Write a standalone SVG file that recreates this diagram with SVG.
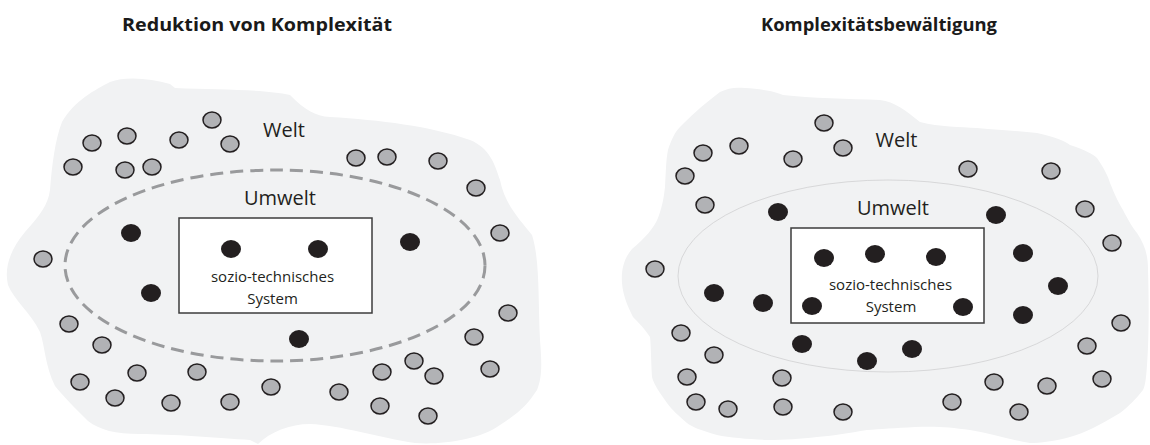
<svg xmlns="http://www.w3.org/2000/svg" width="1150" height="445" viewBox="0 0 1150 445">
<style>
.blob{fill:#f1f2f3;stroke:none}
.g{fill:#b1b2b5;stroke:#231f20;stroke-width:1.5}
.b{fill:#231f20;stroke:none}
.box{fill:#ffffff;stroke:#3c3c3c;stroke-width:1.5}
.t{font-family:"Open Sans","Noto Sans",sans-serif;fill:#231f20}
.title{font-family:"Open Sans","Noto Sans",sans-serif;font-weight:bold;font-size:18px;fill:#1a1a1a}
</style>
<rect width="1150" height="445" fill="#ffffff"/>

<g id="left-panel">
<text class="title" x="257" y="31" text-anchor="middle" textLength="270" lengthAdjust="spacingAndGlyphs">Reduktion von Komplexität</text>
<path id="left-welt" class="blob" d="M110,82 C125,76 150,78 170,84 L175,88 C220,90 265,89 290,95 C305,110 315,116 330,117 C380,120 430,126 470,140 C490,148 495,165 500,180 C505,205 520,220 532,235 C540,260 538,300 540,340 C542,365 542,378 537,390 C527,405 520,412 500,425 C480,440 440,445 415,443 C380,438 340,425 310,424 C290,424 270,432 258,444 L250,440 C220,438 170,434 140,434 C115,434 100,430 88,421 C75,408 65,398 55,386 C45,366 45,346 40,332 C30,312 14,300 8,285 C4,268 10,250 25,232 C40,215 48,205 50,190 C52,165 55,140 62,122 C75,100 95,90 110,82 Z"/>
<ellipse id="left-umwelt" cx="275" cy="265.5" rx="210" ry="95.5" fill="none" stroke="#999a9c" stroke-width="3" stroke-dasharray="13 7"/>
<text class="t" x="284" y="137" font-size="20" text-anchor="middle">Welt</text>
<text class="t" x="280" y="205" font-size="20" text-anchor="middle">Umwelt</text>
<g id="left-system">
<rect class="box" x="179" y="218" width="193" height="95"/>
<text class="t" x="272.5" y="282" font-size="15" text-anchor="middle">sozio-technisches</text>
<text class="t" x="272.5" y="304" font-size="15" text-anchor="middle">System</text>
</g>
<g id="left-gray">
<ellipse class="g" cx="212" cy="120" rx="9" ry="8"/>
<ellipse class="g" cx="92" cy="143" rx="9" ry="8"/>
<ellipse class="g" cx="127" cy="136" rx="9" ry="8"/>
<ellipse class="g" cx="179" cy="140" rx="9" ry="8"/>
<ellipse class="g" cx="230" cy="144" rx="9" ry="8"/>
<ellipse class="g" cx="73" cy="167" rx="9" ry="8"/>
<ellipse class="g" cx="125" cy="170" rx="9" ry="8"/>
<ellipse class="g" cx="152" cy="167" rx="9" ry="8"/>
<ellipse class="g" cx="43" cy="259" rx="9" ry="8"/>
<ellipse class="g" cx="356" cy="158" rx="9" ry="8"/>
<ellipse class="g" cx="387" cy="157" rx="9" ry="8"/>
<ellipse class="g" cx="438" cy="161" rx="9" ry="8"/>
<ellipse class="g" cx="476" cy="188" rx="9" ry="8"/>
<ellipse class="g" cx="500" cy="233" rx="9" ry="8"/>
<ellipse class="g" cx="69" cy="324" rx="9" ry="8"/>
<ellipse class="g" cx="102" cy="345" rx="9" ry="8"/>
<ellipse class="g" cx="80" cy="382" rx="9" ry="8"/>
<ellipse class="g" cx="137" cy="373" rx="9" ry="8"/>
<ellipse class="g" cx="197" cy="372" rx="9" ry="8"/>
<ellipse class="g" cx="115" cy="398" rx="9" ry="8"/>
<ellipse class="g" cx="171" cy="403" rx="9" ry="8"/>
<ellipse class="g" cx="230" cy="402" rx="9" ry="8"/>
<ellipse class="g" cx="271" cy="387" rx="9" ry="8"/>
<ellipse class="g" cx="508" cy="313" rx="9" ry="8"/>
<ellipse class="g" cx="474" cy="337" rx="9" ry="8"/>
<ellipse class="g" cx="490" cy="369" rx="9" ry="8"/>
<ellipse class="g" cx="382" cy="372" rx="9" ry="8"/>
<ellipse class="g" cx="414" cy="361" rx="9" ry="8"/>
<ellipse class="g" cx="434" cy="376" rx="9" ry="8"/>
<ellipse class="g" cx="339" cy="392" rx="9" ry="8"/>
<ellipse class="g" cx="380" cy="406" rx="9" ry="8"/>
<ellipse class="g" cx="428" cy="416" rx="9" ry="8"/>
</g>
<g id="left-black">
<ellipse class="b" cx="131" cy="233" rx="10" ry="9"/>
<ellipse class="b" cx="231" cy="249" rx="10" ry="9"/>
<ellipse class="b" cx="318" cy="249" rx="10" ry="9"/>
<ellipse class="b" cx="410" cy="242" rx="10" ry="9"/>
<ellipse class="b" cx="151" cy="293" rx="10" ry="9"/>
<ellipse class="b" cx="299" cy="339" rx="10" ry="9"/>
</g>
</g>

<g id="right-panel">
<text class="title" x="879" y="31" text-anchor="middle" textLength="236" lengthAdjust="spacingAndGlyphs">Komplexitätsbewältigung</text>
<path id="right-welt" class="blob" d="M720,92 C728,88 735,87 745,88 C760,89 775,91 783,95 C810,98 850,99 880,100 C895,102 905,110 920,122 C940,127 960,127 977,128 C1000,130 1020,131 1037,133 C1055,137 1065,141 1070,145 C1085,150 1093,154 1097,158 C1104,168 1108,176 1110,183 C1115,195 1118,202 1123,210 C1128,220 1133,228 1137,233 C1145,245 1148,255 1148,270 C1149,300 1149,340 1147,365 C1146,380 1145,386 1143,390 C1135,400 1130,405 1120,413 C1100,425 1085,433 1070,437 C1055,441 1040,443 1030,443 C1010,440 990,433 970,430 C950,427 935,426 915,427 C895,428 880,429 867,430 C850,433 830,436 817,437 C800,439 785,440 767,440 C750,439 730,438 717,435 C700,430 692,427 687,423 C678,415 672,410 667,403 C660,393 654,385 652,377 C651,360 651,345 650,337 C644,328 638,322 633,317 C627,305 623,295 622,283 C621,270 624,258 632,249 C645,238 654,228 658,218 C663,205 664,195 665,187 C666,170 666,160 668,150 C671,140 675,132 680,127 C690,117 700,107 720,92 Z"/>
<ellipse id="right-umwelt" cx="888" cy="276" rx="210" ry="96" fill="none" stroke="#cbcccd" stroke-width="0.7"/>
<text class="t" x="896.5" y="147" font-size="20" text-anchor="middle">Welt</text>
<text class="t" x="893" y="215" font-size="20" text-anchor="middle">Umwelt</text>
<g id="right-system">
<rect class="box" x="791" y="228" width="193" height="95"/>
<text class="t" x="890.5" y="290" font-size="15" text-anchor="middle">sozio-technisches</text>
<text class="t" x="891" y="312" font-size="15" text-anchor="middle">System</text>
</g>
<g id="right-gray">
<ellipse class="g" cx="824" cy="123" rx="9" ry="8"/>
<ellipse class="g" cx="703" cy="153" rx="9" ry="8"/>
<ellipse class="g" cx="739" cy="146" rx="9" ry="8"/>
<ellipse class="g" cx="793" cy="159" rx="9" ry="8"/>
<ellipse class="g" cx="843" cy="148" rx="9" ry="8"/>
<ellipse class="g" cx="685" cy="176" rx="9" ry="8"/>
<ellipse class="g" cx="705" cy="205" rx="9" ry="8"/>
<ellipse class="g" cx="968" cy="169" rx="9" ry="8"/>
<ellipse class="g" cx="1051" cy="171" rx="9" ry="8"/>
<ellipse class="g" cx="1085" cy="209" rx="9" ry="8"/>
<ellipse class="g" cx="1112" cy="243" rx="9" ry="8"/>
<ellipse class="g" cx="655" cy="269" rx="9" ry="8"/>
<ellipse class="g" cx="681" cy="333" rx="9" ry="8"/>
<ellipse class="g" cx="714" cy="355" rx="9" ry="8"/>
<ellipse class="g" cx="687" cy="377" rx="9" ry="8"/>
<ellipse class="g" cx="782" cy="378" rx="9" ry="8"/>
<ellipse class="g" cx="696" cy="402" rx="9" ry="8"/>
<ellipse class="g" cx="728" cy="409" rx="9" ry="8"/>
<ellipse class="g" cx="783" cy="407" rx="9" ry="8"/>
<ellipse class="g" cx="843" cy="412" rx="9" ry="8"/>
<ellipse class="g" cx="1121" cy="323" rx="9" ry="8"/>
<ellipse class="g" cx="1087" cy="346" rx="9" ry="8"/>
<ellipse class="g" cx="1102" cy="379" rx="9" ry="8"/>
<ellipse class="g" cx="994" cy="382" rx="9" ry="8"/>
<ellipse class="g" cx="1047" cy="386" rx="9" ry="8"/>
<ellipse class="g" cx="952" cy="402" rx="9" ry="8"/>
<ellipse class="g" cx="1019" cy="412" rx="9" ry="8"/>
</g>
<g id="right-black">
<ellipse class="b" cx="778" cy="212" rx="10" ry="9"/>
<ellipse class="b" cx="996" cy="215" rx="10" ry="9"/>
<ellipse class="b" cx="1023" cy="253" rx="10" ry="9"/>
<ellipse class="b" cx="824" cy="258" rx="10" ry="9"/>
<ellipse class="b" cx="875" cy="254" rx="10" ry="9"/>
<ellipse class="b" cx="936" cy="257" rx="10" ry="9"/>
<ellipse class="b" cx="1058" cy="286" rx="10" ry="9"/>
<ellipse class="b" cx="714" cy="293" rx="10" ry="9"/>
<ellipse class="b" cx="763" cy="303" rx="10" ry="9"/>
<ellipse class="b" cx="812" cy="306" rx="10" ry="9"/>
<ellipse class="b" cx="963" cy="307" rx="10" ry="9"/>
<ellipse class="b" cx="1023" cy="315" rx="10" ry="9"/>
<ellipse class="b" cx="802" cy="344" rx="10" ry="9"/>
<ellipse class="b" cx="912" cy="349" rx="10" ry="9"/>
<ellipse class="b" cx="867" cy="361" rx="10" ry="9"/>
</g>
</g>
</svg>
